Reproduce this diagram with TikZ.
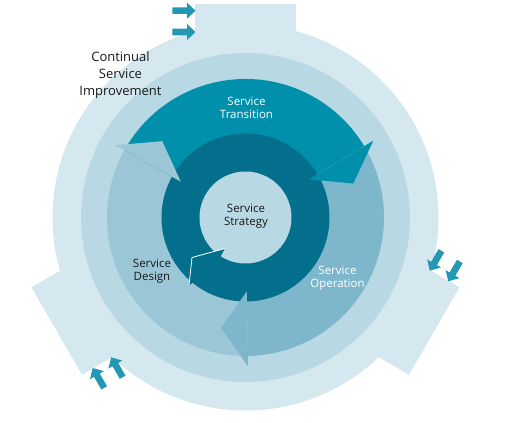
\documentclass[tikz,border=0pt]{standalone}
\usepackage{fontspec}
\setmainfont{Open Sans}
\usepackage{xcolor}
\usepackage{tikz}
\usetikzlibrary{calc}
\definecolor{CSIPale}{HTML}{D6E8EF}
\definecolor{RingLight}{HTML}{B8D8E3}
\definecolor{DesignBlue}{HTML}{9BC6D6}
\definecolor{OperBlue}{HTML}{7EB7CB}
\definecolor{TransTeal}{HTML}{0090AC}
\definecolor{StratDark}{HTML}{036F8D}
\definecolor{FlowTeal}{HTML}{2497B3}

\tikzset{
  lbl/.style={align=center, inner sep=0pt, font=\fontsize{11.5}{12.7}\selectfont},
  csilbl/.style={align=center, inner sep=0pt, font=\fontsize{13}{17.3}\selectfont, text=black!90},
  flow/.style={fill=FlowTeal}
}
% head of one lifecycle arrow: back edge at #1, tip 13.5 degrees clockwise
\newcommand\cyclehead[2]{\fill[#2] (#1:149) -- ({#1-13.5}:113) -- (#1:74) -- cycle;}

\begin{document}
\begin{tikzpicture}[x=1pt, y=1pt]
  \useasboundingbox (-245.5,-205.5) rectangle (266.5,217.5);

  % continual service improvement band with its three tabs
  \fill[CSIPale] (0,0) circle[radius=193];
  \foreach \a in {0,120,240}
    \fill[CSIPale, rotate around={\a:(0,-4.5)}]
      (-50.5,0) -- (-50.5,213.5) -- (50.5,213.5) -- (50.5,0) -- cycle;
  \fill[RingLight] (0,0) circle[radius=164.5];

  % lifecycle stages
  \fill[DesignBlue] (0,0) -- (271:138.5) arc[start angle=271, end angle=151, radius=138.5] -- cycle;
  \fill[TransTeal]  (0,0) -- (151:138.5) arc[start angle=151, end angle=31, radius=138.5] -- cycle;
  \fill[OperBlue]   (0,0) -- (31:138.5) arc[start angle=31, end angle=-89, radius=138.5] -- cycle;

  % service strategy ring
  \fill[StratDark] (0,0) circle[radius=84];
  \fill[RingLight] (0,0) circle[radius=46];
  \fill[StratDark] (-20.5,-31) -- (-53.5,-40) -- (-56.5,-68) -- (-48.5,-62) -- (-25.5,-40) -- cycle;
  \draw[white, line width=0.8pt] (-20.5,-31) -- (-53.5,-40) -- (-56.5,-68);

  \cyclehead{151}{DesignBlue}
  \cyclehead{31}{TransTeal}
  \cyclehead{271}{OperBlue}

  % improvement inputs
  \foreach \a/\d in {0/0,120/6,240/6}
    \foreach \r in {211.3,190}
      \fill[flow, rotate around={\a:(0,-4.5)}, shift={(-50,\r-4.5-\d)}]
        (0,0) -- (-8.4,8) -- (-8.4,3.3) -- (-23,3.3) -- (-23,-3.3) -- (-8.4,-3.3) -- (-8.4,-8) -- cycle;

  \node[csilbl] (csi) at (-125,142.5) {Continual\\Service\\Improvement};
  \node[lbl, text=white] (transition) at (1,110) {Service\\Transition};
  \node[lbl, text=black!90] (strategy) at (0.5,1.5) {Service\\Strategy};
  \node[lbl, text=black!90] (design) at (-93.5,-53.5) {Service\\Design};
  \node[lbl, text=white] (operation) at (92,-60.5) {Service\\Operation};
\end{tikzpicture}
\end{document}
